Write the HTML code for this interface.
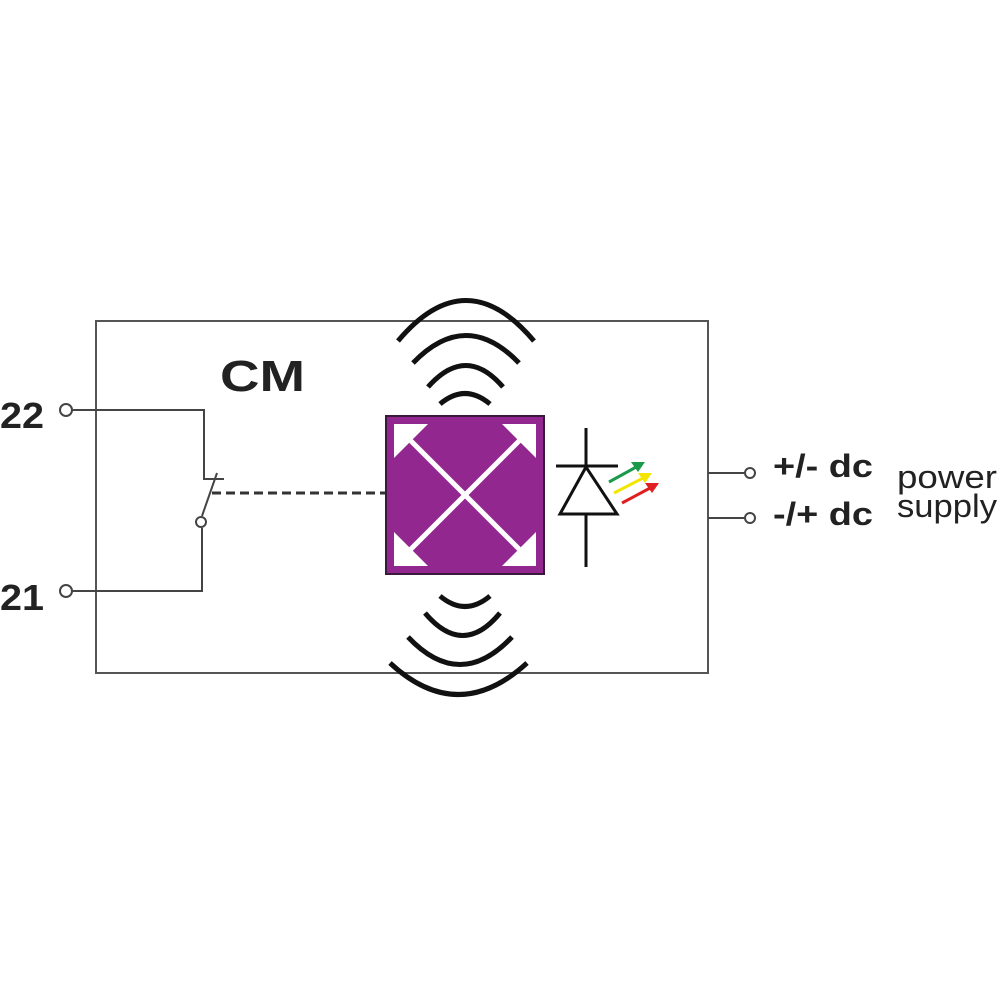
<!DOCTYPE html>
<html><head><style>html,body{margin:0;padding:0;background:#fff}svg{display:block}</style></head>
<body>
<svg width="1000" height="1000" viewBox="0 0 1000 1000" xmlns="http://www.w3.org/2000/svg">
<rect x="0" y="0" width="1000" height="1000" fill="#fff"/>
<rect x="96" y="321" width="612" height="352" fill="none" stroke="#555" stroke-width="2"/>
<text x="220" y="391" font-family="Liberation Sans, sans-serif" font-weight="bold" font-size="44" fill="#222" textLength="85" lengthAdjust="spacingAndGlyphs">CM</text>
<text x="0" y="428" font-family="Liberation Sans, sans-serif" font-weight="bold" font-size="36" fill="#222" textLength="44" lengthAdjust="spacingAndGlyphs">22</text>
<text x="0" y="610" font-family="Liberation Sans, sans-serif" font-weight="bold" font-size="36" fill="#222" textLength="44" lengthAdjust="spacingAndGlyphs">21</text>
<g fill="none" stroke="#444" stroke-width="2">
<circle cx="66" cy="410" r="6" fill="#fff"/>
<circle cx="66" cy="591" r="6" fill="#fff"/>
<polyline points="72,410 204,410 204,479 224,479"/>
<polyline points="72,591 202,591 202,528"/>
<line x1="202" y1="516" x2="217" y2="473"/>
<circle cx="201" cy="522" r="5" fill="#fff"/>
<line x1="212" y1="493" x2="385" y2="493" stroke="#333" stroke-width="3" stroke-dasharray="9,5"/>
<polyline points="708,473 744,473"/>
<polyline points="708,518 744,518"/>
<circle cx="750" cy="473" r="5" fill="#fff"/>
<circle cx="750" cy="518" r="5" fill="#fff"/>
</g>
<rect x="386" y="416" width="158" height="158" fill="#92278f" stroke="#3a1a3a" stroke-width="2"/>
<g stroke="#fff" stroke-width="5">
<line x1="403" y1="433" x2="527" y2="557"/>
<line x1="527" y1="433" x2="403" y2="557"/>
</g>
<g fill="#fff">
<polygon points="394,424 428,424 394,458"/>
<polygon points="536,424 502,424 536,458"/>
<polygon points="394,566 428,566 394,532"/>
<polygon points="536,566 502,566 536,532"/>
</g>
<g fill="none" stroke="#111" stroke-width="5" stroke-linecap="butt">
<path d="M398,341 Q466,260 534,341"/>
<path d="M413,363 Q466,308 519,363"/>
<path d="M428,387 Q466,344 503,387"/>
<path d="M440,404 Q465,383 490,404"/>
<path d="M440,596 Q465,617 490,596"/>
<path d="M425,613 Q463,658 500,613"/>
<path d="M408,637 Q460,692 512,637"/>
<path d="M390,663 Q458,726 527,663"/>
</g>
<g stroke="#111" stroke-width="3" fill="none">
<line x1="586" y1="428" x2="586" y2="567"/>
<line x1="556" y1="466" x2="618" y2="466"/>
<polygon points="586,467 560,514 617,514" fill="#fff"/>
</g>
<g stroke-width="3">
<line x1="609" y1="482" x2="638" y2="466" stroke="#1a9a4a"/>
<polygon points="645,462 631,462 638,472" fill="#1a9a4a"/>
<line x1="614" y1="493" x2="645" y2="477" stroke="#f2e600"/>
<polygon points="652,473 638,473 645,483" fill="#f2e600"/>
<line x1="622" y1="503" x2="652" y2="487" stroke="#e02020"/>
<polygon points="659,483 645,483 652,493" fill="#e02020"/>
</g>
<g font-family="Liberation Sans, sans-serif" fill="#222">
<text x="773" y="477" font-weight="bold" font-size="32" textLength="100" lengthAdjust="spacingAndGlyphs">+/- dc</text>
<text x="773" y="525" font-weight="bold" font-size="32" textLength="100" lengthAdjust="spacingAndGlyphs">-/+ dc</text>
<text x="897" y="488" font-size="32" textLength="100" lengthAdjust="spacingAndGlyphs">power</text>
<text x="897" y="517" font-size="32" textLength="100" lengthAdjust="spacingAndGlyphs">supply</text>
</g>
</svg>
</body></html>
